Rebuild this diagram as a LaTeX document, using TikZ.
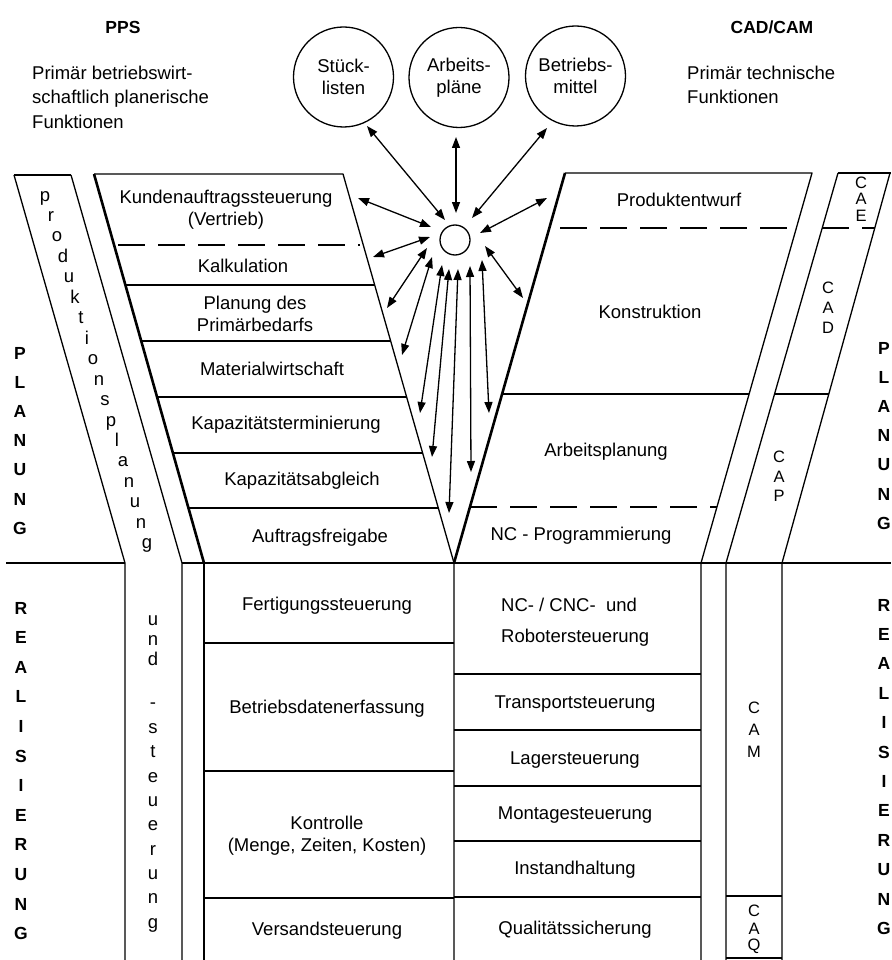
\documentclass[tikz,border=0pt]{standalone}
\usepackage{fontspec}
\setmainfont{Liberation Sans}
\usetikzlibrary{arrows.meta}
\begin{document}
\begin{tikzpicture}[x=1pt,y=-1pt,
  ln/.style={line width=1.3pt, line join=round},
  tk/.style={line width=2.6pt, line join=round},
  dsh/.style={line width=1.3pt, dash pattern=on 27pt off 13pt},
  lbl/.style={font=\fontsize{18.5}{22}\selectfont, inner sep=0pt, align=center},
  hdr/.style={font=\fontsize{18.5}{22}\selectfont, inner sep=0pt, anchor=base west},
  ttl/.style={font=\bfseries\fontsize{17.5}{20}\selectfont, inner sep=0pt, anchor=base},
  big/.style={font=\bfseries\fontsize{17.5}{20}\selectfont, inner sep=0pt},
  cax/.style={font=\fontsize{16.5}{18}\selectfont, inner sep=0pt},
  ltr/.style={font=\fontsize{18.5}{20}\selectfont, inner sep=0pt, anchor=base},
  circ/.style={draw, circle, line width=1.3pt, minimum size=100pt, inner sep=0pt, align=center, font=\fontsize{18.5}{22}\selectfont},
  dbl/.style={line width=1.3pt, {Triangle[length=11pt,width=8pt]}-{Triangle[length=11pt,width=8pt]}}]

\useasboundingbox[fill=white] (0,0) rectangle (891,960);

% ---------- header ----------
\node[ttl] (pps) at (123,34) {PPS};
\node[ttl] (cadcam) at (772,34) {CAD/CAM};
\node[hdr] (h1) at (32,80) {Primär betriebswirt-};
\node[hdr] (h2) at (32,104) {schaftlich planerische};
\node[hdr] (h3) at (32,129) {Funktionen};
\node[hdr] (h4) at (687,80) {Primär technische};
\node[hdr] (h5) at (687,104) {Funktionen};

% ---------- data circles ----------
\node[circ] (stl) at (343.5,77) {Stück-\\listen};
\node[circ] (apl) at (459,77.5) {Arbeits-\\pläne};
\node[circ] (bmi) at (575.5,76) {Betriebs-\\mittel};
\node[draw, circle, line width=1.3pt, minimum size=30pt, inner sep=0pt] (db) at (455,240) {};

% ---------- left band (Produktionsplanung und -steuerung) ----------
\draw[ln] (14,175) -- (71,175);
\draw[ln] (14,175) -- (125,563) -- (125,960);
\draw[ln] (71,175) -- (182,563) -- (182,960);

% ---------- PPS trapezoid ----------
\draw[tk] (94,174) -- (204,563);
\draw[line width=2pt] (204,563) -- (204,960);
\draw[ln] (94,174) -- (343,174) -- (454,563) -- (454,960);
\draw[dsh] (118,245) -- (360,245);
\draw[ln] (125.1,285) -- (374.7,285);
\draw[ln] (140.8,341) -- (390.6,341);
\draw[ln] (156.5,397) -- (406.6,397);
\draw[ln] (172.2,453) -- (422.6,453);
\draw[ln] (187.6,508) -- (438.3,508);

% ---------- CAD/CAM trapezoid ----------
\draw[tk] (565,173) -- (454,563);
\draw[ln] (565,173) -- (812,173) -- (701,563) -- (701,960);
\draw[dsh] (560,228) -- (796,228);
\draw[ln] (501.5,394) -- (749.1,394);
\draw[dsh] (470,507) -- (717,507);

% ---------- right band (CAE/CAD/CAP/CAM/CAQ) ----------
\draw[ln] (838,173) -- (891,173);
\draw[ln] (838,173) -- (726,563) -- (726,960);
\draw[ln] (890,173) -- (782,563) -- (782,960);
\draw[dsh] (822,228) -- (875,228);
\draw[ln] (774.5,394) -- (828.8,394);
\draw[ln] (726,896) -- (782,896);
\draw[ln] (726,958) -- (782,958);

% ---------- planning / realisation border ----------
\draw[ln] (6,563) -- (125,563);
\draw[ln] (182,563) -- (891,563);

% ---------- lower boxes ----------
\draw[ln] (204,643) -- (454,643);
\draw[ln] (204,771) -- (454,771);
\draw[ln] (204,898) -- (454,898);
\draw[ln] (454,674) -- (701,674);
\draw[ln] (454,730) -- (701,730);
\draw[ln] (454,786) -- (701,786);
\draw[ln] (454,841) -- (701,841);
\draw[ln] (454,897) -- (701,897);

% ---------- PPS texts ----------
\node[lbl] (kund) at (226,210) {Kundenauftragssteuerung\\(Vertrieb)};
\node[lbl] (kalk) at (243,266) {Kalkulation};
\node[lbl] (prim) at (255,313.5) {Planung des\\Primärbedarfs};
\node[lbl] (matw) at (272,369) {Materialwirtschaft};
\node[lbl] (kapt) at (286,425) {Kapazitätsterminierung};
\node[lbl] (kapa) at (302,481) {Kapazitätsabgleich};
\node[lbl] (auft) at (320,538) {Auftragsfreigabe};

% ---------- CAD/CAM texts ----------
\node[lbl] (prod) at (679,200) {Produktentwurf};
\node[lbl] (kons) at (650,312) {Konstruktion};
\node[lbl] (arbp) at (606,452) {Arbeitsplanung};
\node[lbl] (ncpr) at (581,536) {NC - Programmierung};

% ---------- lower texts ----------
\node[lbl] (fert) at (327,606) {Fertigungssteuerung};
\node[lbl] (bde) at (327,709) {Betriebsdatenerfassung};
\node[lbl] (kont) at (327,836) {Kontrolle\\(Menge, Zeiten, Kosten)};
\node[lbl] (vers) at (327,931) {Versandsteuerung};
\node[hdr] (nc1) at (501,611) {NC- / CNC-~ und};
\node[hdr] (nc2) at (501,642) {Robotersteuerung};
\node[lbl] (trsp) at (575,704) {Transportsteuerung};
\node[lbl] (lag) at (575,760) {Lagersteuerung};
\node[lbl] (mont) at (575,815) {Montagesteuerung};
\node[lbl] (inst) at (575,870) {Instandhaltung};
\node[lbl] (qual) at (575,930) {Qualitätssicherung};

% ---------- stacked letters ----------
\foreach \c [count=\i from 0] in {p,r,o,d,u,k,t,i,o,n,s,p,l,a,n,u,n,g}
  \node[ltr] (pp\i) at ({45+6*\i},{201+20.46*\i}) {\c};
\foreach \c/\yy [count=\i from 0] in {u/625,n/645,d/665,-/708,s/733,t/757,e/782,u/806,e/830,r/855,u/879,n/903,g/928}
  \node[ltr] (us\i) at (153,\yy) {\c};
\foreach \c [count=\i from 0] in {P,L,A,N,U,N,G}
  \node[big] (lp\i) at (20,{353+29.2*\i}) {\c};
\foreach \c [count=\i from 0] in {P,L,A,N,U,N,G}
  \node[big] (rp\i) at (884,{348+29.2*\i}) {\c};
\foreach \c [count=\i from 0] in {R,E,A,L,I,S,I,E,R,U,N,G}
  \node[big] (lr\i) at (21,{608+29.6*\i}) {\c};
\foreach \c [count=\i from 0] in {R,E,A,L,I,S,I,E,R,U,N,G}
  \node[big] (rr\i) at (884,{605+29.4*\i}) {\c};
\foreach \c/\yy [count=\i from 0] in {C/183,A/199,E/216}
  \node[cax] (cae\i) at (861,\yy) {\c};
\foreach \c/\yy [count=\i from 0] in {C/288,A/308,D/328}
  \node[cax] (cad\i) at (828,\yy) {\c};
\foreach \c/\yy [count=\i from 0] in {C/457,A/477,P/496}
  \node[cax] (cap\i) at (779,\yy) {\c};
\foreach \c/\yy [count=\i from 0] in {C/708,A/730,M/752}
  \node[cax] (cam\i) at (754,\yy) {\c};
\foreach \c/\yy [count=\i from 0] in {C/911,A/929,Q/946}
  \node[cax] (caq\i) at (754,\yy) {\c};

% ---------- arrow end points ----------
\coordinate (o1) at (367,126);  \coordinate (i1) at (445,220);
\coordinate (o2) at (456,137);  \coordinate (i2) at (456,213);
\coordinate (o3) at (547,128);  \coordinate (i3) at (472,218);
\coordinate (o4) at (358,198);  \coordinate (i4) at (431,227);
\coordinate (o5) at (373,257);  \coordinate (i5) at (430,237);
\coordinate (o6) at (387,308);  \coordinate (i6) at (427,248);
\coordinate (o7) at (402,355);  \coordinate (i7) at (432,257);
\coordinate (o8) at (420,413);  \coordinate (i8) at (442,265);
\coordinate (o9) at (432,457);  \coordinate (i9) at (449,269);
\coordinate (o10) at (449,513); \coordinate (i10) at (458,269);
\coordinate (o11) at (471,472); \coordinate (i11) at (470,266);
\coordinate (o12) at (489,413); \coordinate (i12) at (482,260);
\coordinate (o13) at (523,298); \coordinate (i13) at (485,246);
\coordinate (o14) at (547,198); \coordinate (i14) at (480,233);
\foreach \k in {1,...,14}
  \draw[dbl] (o\k) -- (i\k);
\end{tikzpicture}
\end{document}
